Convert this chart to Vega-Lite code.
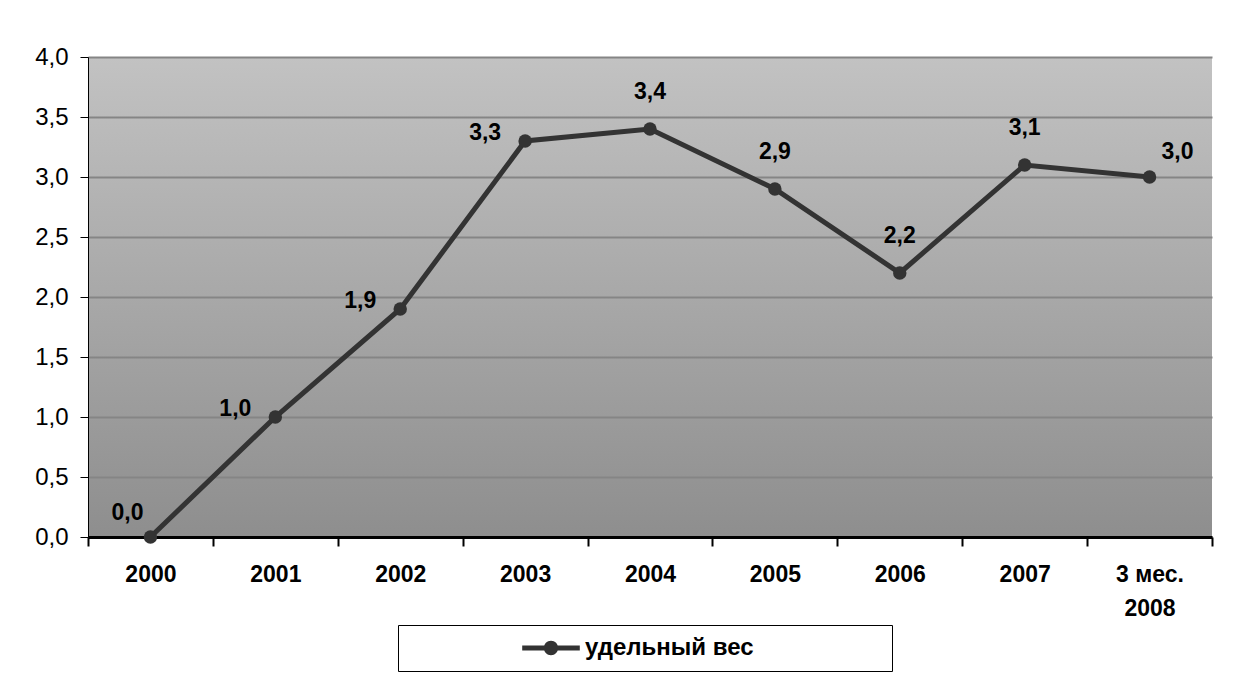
{
  "$schema": "https://vega.github.io/schema/vega-lite/v6.json",
  "width": 1124,
  "height": 480,
  "autosize": {"type": "none"},
  "padding": {"left": 88, "top": 57, "right": 24, "bottom": 138},
  "background": "white",
  "config": {
    "locale": {"number": {"decimal": ",", "thousands": " ", "grouping": [3], "currency": ["", " ₽"]}},
    "font": "Liberation Sans",
    "view": {
      "stroke": null,
      "fill": {
        "gradient": "linear", "x1": 0, "y1": 0, "x2": 0, "y2": 1,
        "stops": [{"offset": 0, "color": "#c2c2c2"}, {"offset": 1, "color": "#8e8e8e"}]
      }
    }
  },
  "data": {
    "values": [
      {"period": "2000", "value": 0.0},
      {"period": "2001", "value": 1.0},
      {"period": "2002", "value": 1.9},
      {"period": "2003", "value": 3.3},
      {"period": "2004", "value": 3.4},
      {"period": "2005", "value": 2.9},
      {"period": "2006", "value": 2.2},
      {"period": "2007", "value": 3.1},
      {"period": "3 мес. 2008", "value": 3.0}
    ]
  },
  "encoding": {
    "x": {
      "field": "period", "type": "nominal", "sort": null,
      "scale": {"paddingInner": 0, "paddingOuter": 0},
      "axis": {
        "title": null, "labelAngle": 0,
        "domainColor": "black", "domainWidth": 3,
        "tickColor": "black", "tickWidth": 2, "tickSize": 9, "tickBand": "extent",
        "labelFontSize": 23, "labelFontWeight": "bold", "labelColor": "black",
        "labelPadding": 17, "labelLineHeight": 34,
        "labelExpr": "datum.label == '3 мес. 2008' ? ['3 мес.', '2008'] : datum.label"
      }
    },
    "y": {
      "field": "value", "type": "quantitative",
      "scale": {"domain": [0, 4], "nice": false},
      "axis": {
        "title": null, "values": [0, 0.5, 1, 1.5, 2, 2.5, 3, 3.5, 4], "format": ".1f",
        "domainColor": "black", "domainWidth": 1,
        "tickColor": "black", "tickSize": 8,
        "labelFontSize": 24, "labelColor": "black", "labelPadding": 12,
        "grid": true, "gridColor": "#858585", "gridWidth": 2
      }
    }
  },
  "layer": [
    {"mark": {"type": "line", "color": "#333333", "strokeWidth": 5}},
    {
      "mark": {"type": "point", "filled": true, "size": 180, "opacity": 1},
      "encoding": {
        "color": {
          "datum": "удельный вес",
          "scale": {"range": ["#333333"]},
          "legend": {
            "title": null, "orient": "none", "legendX": 310, "legendY": 568,
            "padding": 11, "strokeColor": "black", "fillColor": "white",
            "symbolType": "M-3.6,-0.3H3.6V0.3H-3.6Z M0.9,0 A0.9,0.9 0 1,1 -0.9,0 A0.9,0.9 0 1,1 0.9,0 Z",
            "symbolSize": 256, "symbolStrokeWidth": 0, "symbolOffset": 130,
            "labelFontSize": 24, "labelFontWeight": "bold", "labelColor": "black",
            "labelOffset": 22, "labelLimit": 500,
            "labelExpr": "datum.label + '\u00a0\u00a0\u00a0\u00a0\u00a0\u00a0\u00a0\u00a0\u00a0\u00a0\u00a0\u00a0\u00a0\u00a0\u00a0\u00a0\u00a0\u00a0\u00a0\u200b'"
          }
        }
      }
    },
    {
      "transform": [{"filter": "indexof(['2001', '2002', '2003'], datum.period) >= 0"}],
      "mark": {"type": "text", "fontSize": 23, "fontWeight": "bold", "color": "black", "align": "center", "baseline": "middle", "dx": -40, "dy": -8},
      "encoding": {"text": {"field": "value", "type": "quantitative", "format": ".1f"}}
    },
    {
      "transform": [{"filter": "indexof(['2004', '2005', '2006', '2007'], datum.period) >= 0"}],
      "mark": {"type": "text", "fontSize": 23, "fontWeight": "bold", "color": "black", "align": "center", "baseline": "middle", "dy": -37},
      "encoding": {"text": {"field": "value", "type": "quantitative", "format": ".1f"}}
    },
    {
      "transform": [{"filter": "datum.period == '2000'"}],
      "mark": {"type": "text", "fontSize": 23, "fontWeight": "bold", "color": "black", "align": "center", "baseline": "middle", "dx": -23, "dy": -24},
      "encoding": {"text": {"field": "value", "type": "quantitative", "format": ".1f"}}
    },
    {
      "transform": [{"filter": "datum.period == '3 мес. 2008'"}],
      "mark": {"type": "text", "fontSize": 23, "fontWeight": "bold", "color": "black", "align": "center", "baseline": "middle", "dx": 28, "dy": -25},
      "encoding": {"text": {"field": "value", "type": "quantitative", "format": ".1f"}}
    }
  ]
}
